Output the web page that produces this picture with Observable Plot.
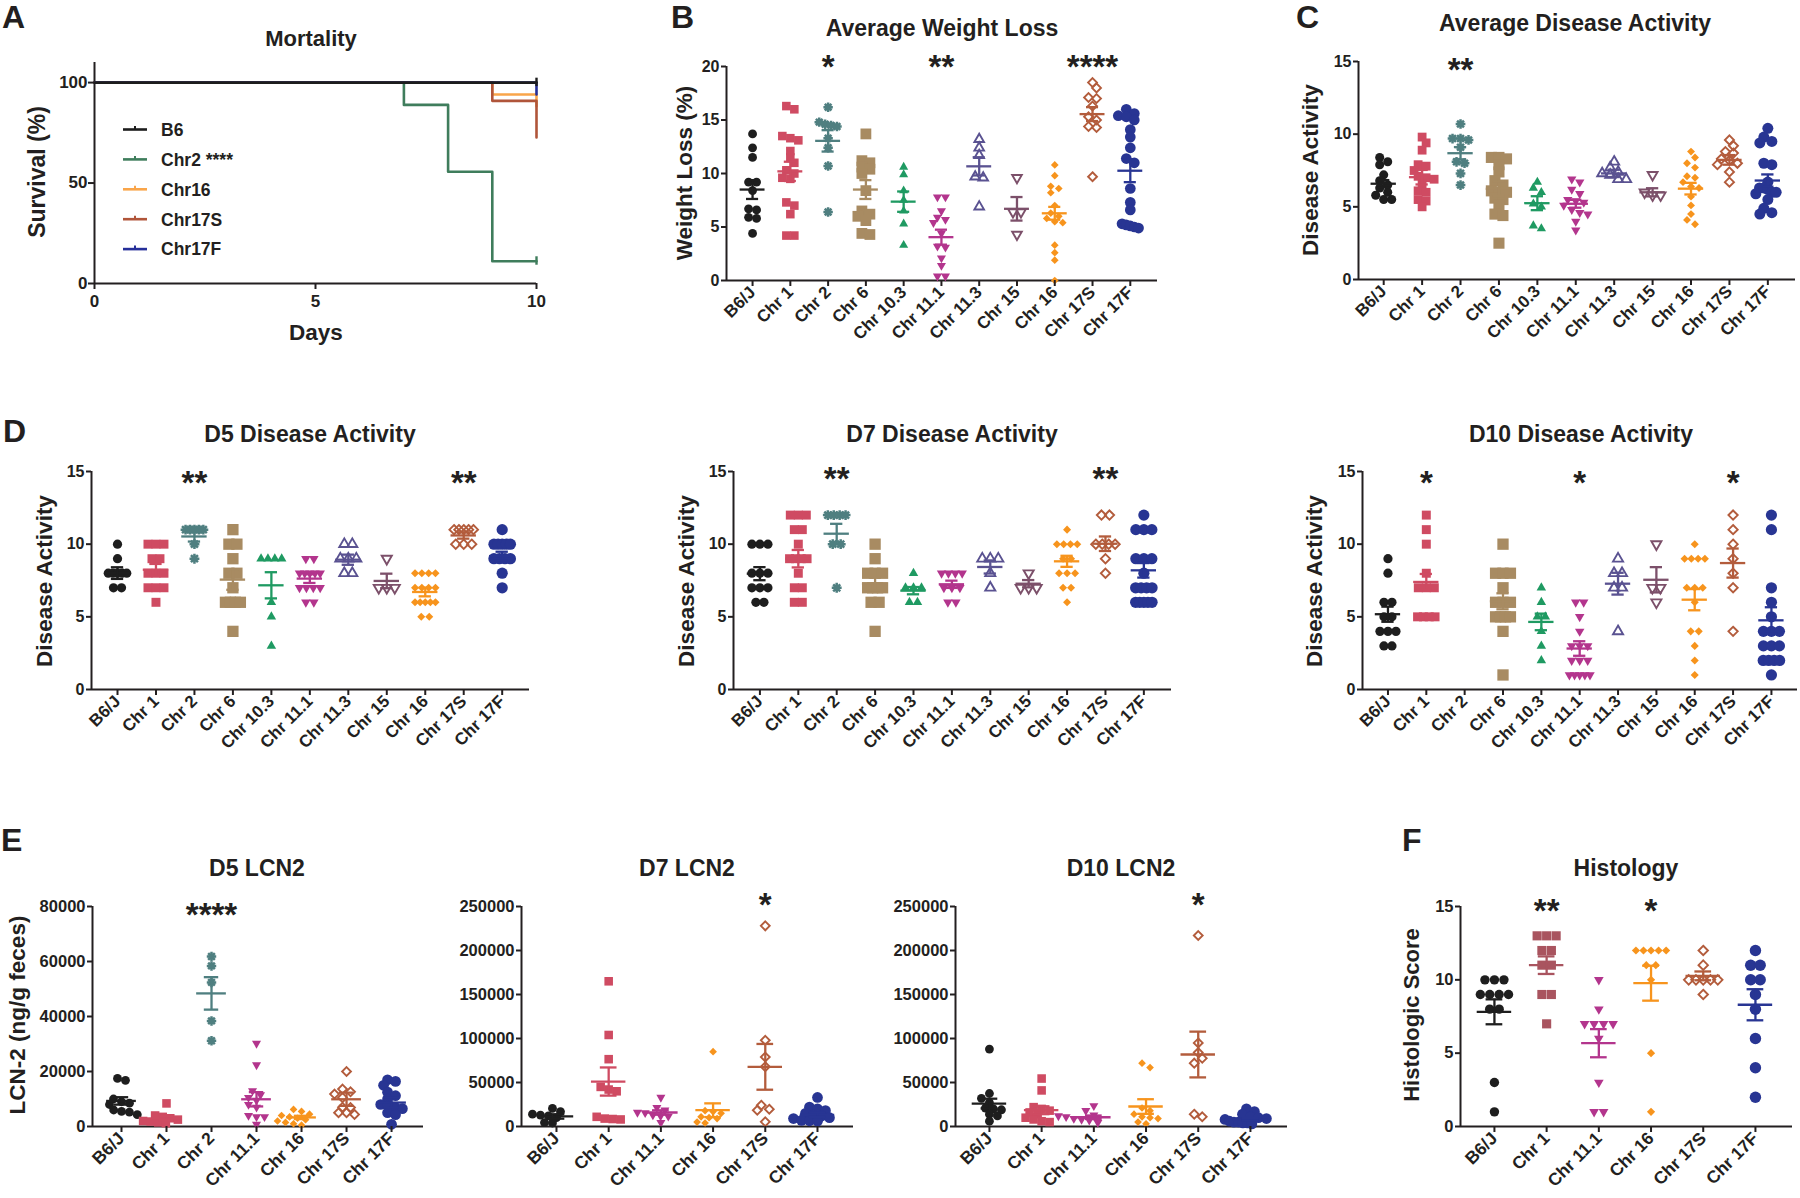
<!DOCTYPE html>
<html><head><meta charset="utf-8">
<script src="https://cdn.jsdelivr.net/npm/d3@7"></script>
<script src="https://cdn.jsdelivr.net/npm/@observablehq/plot@0.6"></script>
<style>
body{margin:0;background:#fff;}
#fig{position:relative;width:1800px;height:1198px;overflow:hidden;background:#fff;}
.panel{position:absolute;width:10px;height:10px;overflow:visible;}
.panel svg{max-width:none !important;}
</style></head><body><div id="fig"></div><script>
const FONT = "'Liberation Sans', Arial, Helvetica, sans-serif";
const INK = "#231f20";

// ---------- categories ----------
const catsFull = ["B6/J","Chr 1","Chr 2","Chr 6","Chr 10.3","Chr 11.1","Chr 11.3","Chr 15","Chr 16","Chr 17S","Chr 17F"];
const catsLcnD5 = ["B6/J","Chr 1","Chr 2","Chr 11.1","Chr 16","Chr 17S","Chr 17F"];
const catsLcn = ["B6/J","Chr 1","Chr 11.1","Chr 16","Chr 17S","Chr 17F"];

// ---------- A: survival ----------
const survNames = ["B6","Chr2 ****","Chr16","Chr17S","Chr17F"];
const survColors = ["#1d1d1d","#3f7d5c","#f9a54a","#b0553a","#262f99"];
const survB6 = [[0,100],[10,100]];
const survChr2 = [[0,100],[7,88.9],[8,55.6],[9,11.1],[10,11.1]];
const survChr16 = [[0,100],[9,94.1],[10,88.2]];
const survChr17S = [[0,100],[9,90.9],[10,72.7]];
const survChr17F = [[0,100],[10,94.1]];
const survCensor = [[10,100,0],[10,11.1,1]];

// ---------- B: average weight loss ----------
const wlData = [
 [13.7,12.4,11.5,9.2,9.2,8.4,6.7,6.6,5.9,5.8,4.4],
 [16.3,16.0,13.5,13.3,13.1,12.1,11.5,11.0,10.3,10.0,9.6,9.5,7.3,7.0,6.2,4.2,4.2],
 [16.2,14.8,14.6,14.5,14.4,13.3,12.4,10.7,6.4],
 [13.7,11.2,11.0,10.6,10.4,10.0,8.4,6.5,6.2,6.0,5.6,4.4,4.3],
 [10.6,9.9,8.4,7.5,6.5,5.3,3.3],
 [7.8,7.8,6.5,5.9,5.7,5.4,4.4,3.2,3.1,2.1,1.4,0.4,0.4],
 [13.2,12.4,11.7,9.7,9.6,6.9],
 [9.6,6.4,6.4,4.3],
 [10.8,9.8,8.8,8.6,8.2,7.0,6.3,6.0,5.8,5.5,5.4,3.3,2.6,1.9,0.0],
 [18.5,18.0,17.1,17.0,16.3,15.3,15.0,14.4,14.3,9.7],
 [16.0,15.6,15.4,15.3,15.0,14.1,13.4,12.4,11.4,11.0,8.6,7.3,6.6,5.3,5.2,5.1,5.0,4.9]
];
const wlMean = [8.5,10.2,13.05,8.5,7.37,4.05,10.67,6.7,6.28,15.55,10.26];
const wlSem = [0.88,0.9,1.0,0.88,0.95,0.7,0.85,1.1,0.6,0.65,1.07];
const wlSig = ["","","*","","","**","","","","****",""];

// ---------- C: average disease activity ----------
const daData = [
 [8.4,8.1,7.9,7.2,6.8,6.5,6.3,6.0,5.8,5.5,5.5],
 [9.8,9.4,8.9,7.9,7.8,7.5,7.1,7.0,6.9,6.6,6.1,6.0,5.5,5.4,5.0],
 [10.7,9.7,9.7,9.6,9.1,8.1,8.0,7.3,6.5],
 [8.4,8.4,8.3,7.9,7.4,6.8,6.5,6.1,6.0,6.0,5.6,5.5,5.1,4.5,4.4,2.5],
 [6.7,6.3,6.0,5.2,5.0,3.7,3.5],
 [6.9,6.7,6.2,5.9,5.5,5.4,5.3,5.1,4.8,4.6,4.5,4.0,3.4],
 [8.1,7.7,7.4,7.3,7.2,6.9,6.9],
 [7.2,6.0,5.8,5.8],
 [8.8,8.4,8.0,7.7,7.1,7.0,6.7,6.4,6.3,5.7,5.1,4.5,4.1,3.8],
 [9.6,9.2,8.8,8.7,8.3,8.2,8.0,7.9,7.4,6.7],
 [10.4,9.8,9.5,9.4,8.0,7.9,6.7,6.3,6.3,6.2,6.0,6.0,5.9,5.5,4.9,4.6,4.5]
];
const daMean = [6.59,7.04,8.69,6.24,5.25,5.21,7.3,6.0,6.25,8.23,6.81];
const daSem = [0.25,0.5,0.42,0.5,0.48,0.27,0.25,0.28,0.4,0.33,0.42];
const daSig = ["","","**","","","","","","","",""];

// ---------- D: D5 / D7 / D10 disease activity ----------
const d5Data = [
 [10,9,8,8,8,8,8,7,7],
 [10,10,10,9,9,8,8,8,7,7,7,6],
 [11,11,11,11,11,10,9],
 [11,10,10,9,8,8,7,6,6,6,6,4],
 [9,9,9,9,6,5,3],
 [9,9,8,8,8,8,8,7,7,7,7,6,6],
 [10,10,9,9,9,8,8],
 [9,7,7,7],
 [8,8,8,8,7,7,7,7,6,6,6,6,6,5,5],
 [11,11,11,11,11,10,10,10],
 [11,10,10,10,10,10,9,9,9,9,8,7]
];
const d5Mean = [8.01,8.24,10.53,7.56,7.17,7.63,8.93,7.47,6.71,10.6,9.18];
const d5Sem = [0.4,0.4,0.35,0.7,0.9,0.3,0.35,0.5,0.3,0.22,0.3];
const d5Sig = ["","","**","","","","","","","**",""];

const d7Data = [
 [10,10,10,8,8,8,7,7,7,6,6],
 [12,12,12,11,11,10,9,9,9,9,8,7,7,6,6],
 [12,12,12,12,10,10,7],
 [10,9,8,8,8,7,7,7,7,6,6,4],
 [8,7,7,7,6,6],
 [8,8,8,8,7,7,7,6,6],
 [9,9,9,8,7],
 [8,7,7,7],
 [11,10,10,10,10,9,9,8,8,8,7,7,6],
 [12,12,10,10,10,10,9,8],
 [12,11,11,11,9,9,9,8,7,7,7,7,6,6,6,6,6]
];
const d7Mean = [7.97,9.0,10.72,7.28,6.8,7.24,8.43,7.28,8.82,10.03,8.2];
const d7Sem = [0.45,0.6,0.68,0.45,0.25,0.25,0.45,0.25,0.38,0.5,0.5];
const d7Sig = ["","","**","","","","","","","**",""];

const d10Data = [
 [9,8,6,6,5,5,4,4,4,3,3],
 [12,11,10,8,7,7,7,5,5,5,5],
 [],
 [10,8,8,8,7,6,6,6,5,5,5,5,4,1],
 [7,6,5,5,4,3,2],
 [6,6,5,4,3,3,3,2,2,2,1,1,1,1,1],
 [9,8,8,7,7,4],
 [10,7,7,6],
 [10,9,9,9,9,7,7,7,6,4,4,3,2,1],
 [12,11,10,9,8,7,4],
 [12,11,7,6,5,4,4,4,3,3,3,2,2,2,2,1]
];
const d10Mean = [5.18,7.4,null,6.07,4.65,2.82,7.28,7.55,6.18,8.7,4.76];
const d10Sem = [0.52,0.55,null,0.55,0.57,0.5,0.75,0.87,0.73,1.0,0.9];
const d10Sig = ["","*","","","","*","","","","*",""];

// ---------- E: LCN2 ----------
const lcn5Data = [
 [17500,16800,10000,9000,8500,8000,6000,5500,5200,4300],
 [8400,4000,3500,3000,2500,2000,1800,1500,1200],
 [61800,58400,52400,38400,31200],
 [30200,22400,13000,11500,10500,9500,8000,7000,4000,3500,3500,800],
 [6200,5500,4500,4000,3500,3000,2500,2000,1500,1000,500],
 [20000,13600,12600,11800,10500,7000,6900,5000,5000,4400],
 [17000,16400,15000,12500,11200,10000,8000,7500,7000,6500,5000,4300,800]
];
const lcn5Mean = [9300,3100,48400,9900,3300,9900,8700];
const lcn5Sem = [1350,750,5900,2600,600,2400,1800];
const lcn5Sig = ["","","****","","","",""];

const lcn7Data = [
 [20500,17000,14000,13000,12000,10000,4500,4000],
 [165000,104000,76500,45000,42000,40000,11000,9000,8500,8000],
 [33000,21600,18500,16000,15500,13000,12000,11500,4500],
 [85000,18000,17000,15000,11000,10000,9000,5000,4000],
 [228000,98000,79000,68000,24200,19700,18500,5300],
 [33000,22000,20000,18000,15000,13000,12000,10000,9000,7000,6500,6000]
];
const lcn7Mean = [11400,51100,15900,18500,67800,13300];
const lcn7Sem = [2500,16000,2500,7800,26000,2400];
const lcn7Sig = ["","","","","*",""];

const lcn10Data = [
 [88000,37500,32000,27000,21000,20000,19000,14000,12000,6000],
 [54500,41000,22000,20000,18000,16000,14000,10000,8000,6000,5000],
 [23500,18000,13000,12000,11000,9000,8000,7000,4500],
 [72000,67000,21000,18000,14000,11000,10000,9000,5000,3000],
 [217000,95000,84000,77500,72000,14000,11000],
 [20000,17000,14000,11000,10000,9000,8000,6000,5000,5000,4000,4000,3000]
];
const lcn10Mean = [26100,18500,10500,22700,81800,8000];
const lcn10Sem = [5500,4500,2000,8300,26000,1500];
const lcn10Sig = ["","","","","*",""];

// ---------- F: histology ----------
const histData = [
 [10,10,10,9,9,9,9,8,8,3,1],
 [13,13,13,12,12,11,11,9,9,7],
 [10,8,7,7,7,7,6,3,1,1],
 [12,12,12,12,12,11,11,10,5,1],
 [12,11,10,10,10,10,10,9],
 [12,11,11,10,10,9,8,6,4,2]
];
const histMean = [7.82,11.0,5.68,9.77,10.27,8.3];
const histSem = [0.85,0.6,0.96,1.19,0.3,1.06];
const histSig = ["","**","","*","",""];

// ---------- symbols & styles ----------
const invTriangle = {draw(ctx, size) {
  const y = -Math.sqrt(size / (Math.sqrt(3) * 3)), s3 = Math.sqrt(3);
  ctx.moveTo(0, -y * 2); ctx.lineTo(-s3 * y, y); ctx.lineTo(s3 * y, y); ctx.closePath();
}};
const asterisk8 = {draw(ctx, size) {
  const r = Math.sqrt(size / Math.PI);
  for (let k = 0; k < 4; k++) { const a = k * Math.PI / 4;
    ctx.moveTo(-r * Math.cos(a), -r * Math.sin(a)); ctx.lineTo(r * Math.cos(a), r * Math.sin(a)); }
}};
const catStyle = new Map([
 ["B6/J", {color:"#1e1e1e", symbol:"circle", r:4.2, mode:"fill"}],
 ["Chr 1", {color:"#cf4b62", symbol:"square", r:4.6, mode:"fill"}],
 ["Chr 2", {color:"#4f7f80", symbol:asterisk8, r:4.5, mode:"stroke", sw:2.5}],
 ["Chr 6", {color:"#a88b62", symbol:"square", r:5.8, mode:"fill"}],
 ["Chr 10.3", {color:"#1f9a62", symbol:"triangle", r:3.2, mode:"fill"}],
 ["Chr 11.1", {color:"#b3358d", symbol:invTriangle, r:3.2, mode:"fill"}],
 ["Chr 11.3", {color:"#5a5291", symbol:"triangle", r:3.4, mode:"stroke", sw:1.9}],
 ["Chr 15", {color:"#7c506a", symbol:invTriangle, r:3.4, mode:"stroke", sw:1.9}],
 ["Chr 16", {color:"#f7941d", symbol:"diamond2", r:3.3, mode:"fill"}],
 ["Chr 17S", {color:"#b35c3c", symbol:"diamond2", r:3.8, mode:"stroke", sw:1.9}],
 ["Chr 17F", {color:"#283593", symbol:"circle", r:5.1, mode:"fill"}]
]);

const fig = document.getElementById("fig");
function place(svg, left, top) {
  const div = document.createElement("div");
  div.className = "panel"; div.style.left = left + "px"; div.style.top = top + "px";
  svg.style.maxWidth = "none";
  div.appendChild(svg); fig.appendChild(div);
}
const plotStyle = {background: "transparent", overflow: "visible", fontFamily: FONT, color: INK, maxWidth: "none"};

function layoutOffsets(vals, pxPerUnit, gap, maxW, diam) {
  const order = vals.map((_, i) => i).sort((a, b) => vals[b] - vals[a]);
  const rows = [];
  for (const i of order) {
    const py = vals[i] * pxPerUnit;
    const row = rows[rows.length - 1];
    if (row && row.py0 - py < gap * 0.6) row.items.push(i); else rows.push({py0: py, items: [i]});
  }
  const placed = [];
  const off = new Array(vals.length).fill(0);
  for (const row of rows) {
    const n = row.items.length;
    const g = n > 1 ? Math.min(gap, Math.max(2, (maxW - diam) / (n - 1))) : 0;
    const base = row.items.map((_, k) => (k - (n - 1) / 2) * g);
    let chosen = 0;
    for (let s = 0; s < 30; s++) {
      const c = s === 0 ? 0 : (s % 2 ? 1 : -1) * Math.ceil(s / 2) * gap / 2;
      const ok = row.items.every((i, k) => placed.every(p =>
        Math.hypot(p.x - (base[k] + c), p.y - vals[i] * pxPerUnit) >= gap * 0.8));
      if (ok) { chosen = c; break; }
    }
    row.items.forEach((i, k) => { off[i] = base[k] + chosen; placed.push({x: off[i], y: vals[i] * pxPerUnit}); });
  }
  return off;
}

function scatterPanel(cfg) {
  const {x0, x1, yTop, yBot, xdom, ydom, yticks, cats, data, means, sems, sigs, sigDy,
         ms, gap, yFont, xFont, yFmt, colorOverride} = cfg;
  const ml = 90, mr = 6, mt = 40, mb = 110;
  const iw = x1 - x0, ih = yBot - yTop;
  const pxX = iw / (xdom[1] - xdom[0]);
  const pxY = ih / (ydom[1] - ydom[0]);
  const colOf = c => (colorOverride && colorOverride[c]) || catStyle.get(c).color;
  const marks = [
    Plot.ruleY([ydom[0]], {stroke: INK, strokeWidth: 2}),
    Plot.ruleX([xdom[0]], {stroke: INK, strokeWidth: 2})
  ];
  cats.forEach((c, i) => {
    const vals = data[i]; if (!vals || !vals.length) return;
    const st = catStyle.get(c), col = colOf(c), r = st.r * ms;
    const off = layoutOffsets(vals, pxY, gap, 0.72 * pxX, 2 * r);
    const pts = vals.map((v, k) => ({x: i + off[k] / pxX, v}));
    const o = {x: "x", y: "v", r, symbol: st.symbol};
    if (st.mode === "fill") Object.assign(o, {fill: col, stroke: "none"});
    else Object.assign(o, {fill: "none", stroke: col, strokeWidth: st.sw});
    marks.push(Plot.dot(pts, o));
  });
  cats.forEach((c, i) => {
    if (means[i] == null) return;
    const col = colOf(c), m = means[i], s = sems[i];
    marks.push(Plot.ruleY([m], {x1: i - 0.33, x2: i + 0.33, stroke: col, strokeWidth: 2.3}));
    marks.push(Plot.ruleX([i], {y1: m - s, y2: m + s, stroke: col, strokeWidth: 2.3}));
    marks.push(Plot.ruleY([m - s, m + s], {x1: i - 0.16, x2: i + 0.16, stroke: col, strokeWidth: 2.3}));
  });
  const sigData = sigs.map((s, i) => ({i, s})).filter(d => d.s);
  marks.push(Plot.text(sigData, {x: "i", y: ydom[1], text: "s", fontSize: 33, fontWeight: "bold",
    fill: INK, dy: sigDy, fontFamily: FONT}));
  marks.push(Plot.axisY({ticks: yticks, tickSize: 5, tickPadding: 2, fontSize: yFont, fontWeight: "bold",
    strokeWidth: 2, tickFormat: yFmt || (d => String(d)), label: null}));
  marks.push(Plot.axisX({ticks: d3.range(cats.length), tickFormat: d => cats[d], tickRotate: -45,
    tickSize: 6, tickPadding: 3, fontSize: xFont, fontWeight: "bold", strokeWidth: 2, label: null}));
  const svg = Plot.plot({
    width: iw + ml + mr, height: ih + mt + mb,
    marginLeft: ml, marginRight: mr, marginTop: mt, marginBottom: mb,
    x: {domain: xdom}, y: {domain: ydom}, style: plotStyle, marks
  });
  place(svg, x0 - ml, yTop - mt);
}

// ---------- Panel A ----------
(function () {
  const x0 = 94, x1 = 536, yTop = 62, yBot = 283, ml = 70, mr = 20, mt = 20, mb = 40;
  const series = [survB6, survChr2, survChr16, survChr17S, survChr17F];
  const marks = [
    Plot.ruleY([0], {stroke: INK, strokeWidth: 2}),
    Plot.ruleX([0], {stroke: INK, strokeWidth: 2})
  ];
  [1, 2, 3, 4, 0].forEach(k => marks.push(Plot.line(series[k],
    {x: d => d[0], y: d => d[1], curve: "step-after", stroke: survColors[k], strokeWidth: 2.6})));
  survCensor.forEach(c => marks.push(Plot.ruleX([c], {x: d => d[0], y1: d => d[1] - 2, y2: d => d[1] + 2.2,
    stroke: survColors[c[2]], strokeWidth: 2.4})));
  marks.push(Plot.axisX({ticks: [0, 5, 10], tickSize: 6, tickPadding: 5, fontSize: 17, fontWeight: "bold", strokeWidth: 2, label: null}));
  marks.push(Plot.axisY({ticks: [0, 50, 100], tickSize: 6, tickPadding: 1, fontSize: 17, fontWeight: "bold", strokeWidth: 2, label: null}));
  const svg = Plot.plot({
    width: x1 - x0 + ml + mr, height: yBot - yTop + mt + mb,
    marginLeft: ml, marginRight: mr, marginTop: mt, marginBottom: mb,
    x: {domain: [0, 10]}, y: {domain: [0, 110]}, style: plotStyle, marks
  });
  place(svg, x0 - ml, yTop - mt);
})();

// ---------- Panels B–F ----------
scatterPanel({x0: 726, x1: 1157, yTop: 66, yBot: 280, xdom: [-0.69, 10.72], ydom: [0, 20], yticks: [0,5,10,15,20],
  cats: catsFull, data: wlData, means: wlMean, sems: wlSem, sigs: wlSig, sigDy: 1, ms: 1.05, gap: 8, yFont: 16, xFont: 17});
scatterPanel({x0: 1358, x1: 1795, yTop: 61, yBot: 279, xdom: [-0.656, 10.72], ydom: [0, 15], yticks: [0,5,10,15],
  cats: catsFull, data: daData, means: daMean, sems: daSem, sigs: daSig, sigDy: 9, ms: 1.08, gap: 8, yFont: 16, xFont: 17});
scatterPanel({x0: 91, x1: 529, yTop: 471, yBot: 689, xdom: [-0.676, 10.71], ydom: [0, 15], yticks: [0,5,10,15],
  cats: catsFull, data: d5Data, means: d5Mean, sems: d5Sem, sigs: d5Sig, sigDy: 12, ms: 1.1, gap: 8, yFont: 16, xFont: 17});
scatterPanel({x0: 733, x1: 1171, yTop: 471, yBot: 689, xdom: [-0.688, 10.72], ydom: [0, 15], yticks: [0,5,10,15],
  cats: catsFull, data: d7Data, means: d7Mean, sems: d7Sem, sigs: d7Sig, sigDy: 8, ms: 1.1, gap: 8, yFont: 16, xFont: 17});
scatterPanel({x0: 1362, x1: 1797, yTop: 471, yBot: 689, xdom: [-0.664, 10.68], ydom: [0, 15], yticks: [0,5,10,15],
  cats: catsFull, data: d10Data, means: d10Mean, sems: d10Sem, sigs: d10Sig, sigDy: 12, ms: 1.1, gap: 8, yFont: 16, xFont: 17});
scatterPanel({x0: 92, x1: 423, yTop: 906, yBot: 1126, xdom: [-0.644, 6.71], ydom: [0, 80000], yticks: [0,20000,40000,60000,80000],
  cats: catsLcnD5, data: lcn5Data, means: lcn5Mean, sems: lcn5Sem, sigs: lcn5Sig, sigDy: 9, ms: 1.05, gap: 8, yFont: 16.5, xFont: 17.5});
scatterPanel({x0: 521, x1: 853, yTop: 906, yBot: 1126, xdom: [-0.67, 5.69], ydom: [0, 250000], yticks: [0,50000,100000,150000,200000,250000],
  cats: catsLcn, data: lcn7Data, means: lcn7Mean, sems: lcn7Sem, sigs: lcn7Sig, sigDy: -1, ms: 1.05, gap: 8, yFont: 16.5, xFont: 17.5});
scatterPanel({x0: 955, x1: 1287, yTop: 906, yBot: 1126, xdom: [-0.65, 5.71], ydom: [0, 250000], yticks: [0,50000,100000,150000,200000,250000],
  cats: catsLcn, data: lcn10Data, means: lcn10Mean, sems: lcn10Sem, sigs: lcn10Sig, sigDy: -1, ms: 1.05, gap: 8, yFont: 16.5, xFont: 17.5});
scatterPanel({x0: 1460, x1: 1792, yTop: 906, yBot: 1126, xdom: [-0.65, 5.71], ydom: [0, 15], yticks: [0,5,10,15],
  cats: catsLcn, data: histData, means: histMean, sems: histSem, sigs: histSig, sigDy: 5, ms: 1.12, gap: 9.5, yFont: 16.5, xFont: 17.5,
  colorOverride: {"Chr 1": "#a9545f"}});

// ---------- overlay text: titles, panel letters, axis labels, legend ----------
const ov = d3.select(fig).append("svg").attr("width", 1800).attr("height", 1198)
  .style("position", "absolute").style("left", 0).style("top", 0).style("pointer-events", "none")
  .attr("font-family", FONT).attr("font-weight", "bold").attr("fill", INK);
const letters = [["A",2,28],["B",671,28],["C",1296,28],["D",3,442],["E",1,851],["F",1402,851]];
letters.forEach(([t,x,y]) => ov.append("text").attr("x", x).attr("y", y).attr("font-size", 32).text(t));
const titles = [
  ["Mortality",311,46,22],["Average Weight Loss",942,36,23],["Average Disease Activity",1575,31,23],
  ["D5 Disease Activity",310,442,23],["D7 Disease Activity",952,442,23],["D10 Disease Activity",1581,442,23],
  ["D5 LCN2",257,876,23],["D7 LCN2",687,876,23],["D10 LCN2",1121,876,23],["Histology",1626,876,23],
  ["Days",316,340,22.5]
];
titles.forEach(([t,x,y,s]) => ov.append("text").attr("x", x).attr("y", y).attr("font-size", s)
  .attr("text-anchor", "middle").text(t));
const ylabels = [
  ["Survival (%)",45,172,23],["Weight Loss (%)",692,173,22.5],["Disease Activity",1318,170,22.5],
  ["Disease Activity",52,581,22.5],["Disease Activity",694,581,22.5],["Disease Activity",1322,581,22.5],
  ["LCN-2 (ng/g feces)",25,1015,22.5],["Histologic Score",1419,1015,22]
];
ylabels.forEach(([t,x,y,s]) => ov.append("text").attr("transform", `translate(${x},${y}) rotate(-90)`)
  .attr("font-size", s).attr("text-anchor", "middle").text(t));
survNames.forEach((name, k) => {
  const y = 129.5 + k * 29.9;
  ov.append("line").attr("x1", 123).attr("x2", 147).attr("y1", y).attr("y2", y)
    .attr("stroke", survColors[k]).attr("stroke-width", 2.6);
  ov.append("line").attr("x1", 135).attr("x2", 135).attr("y1", y - 3.5).attr("y2", y)
    .attr("stroke", survColors[k]).attr("stroke-width", 2);
  ov.append("text").attr("x", 161).attr("y", y + 6.3).attr("font-size", 17.5).text(name);
});
</script></body></html>
